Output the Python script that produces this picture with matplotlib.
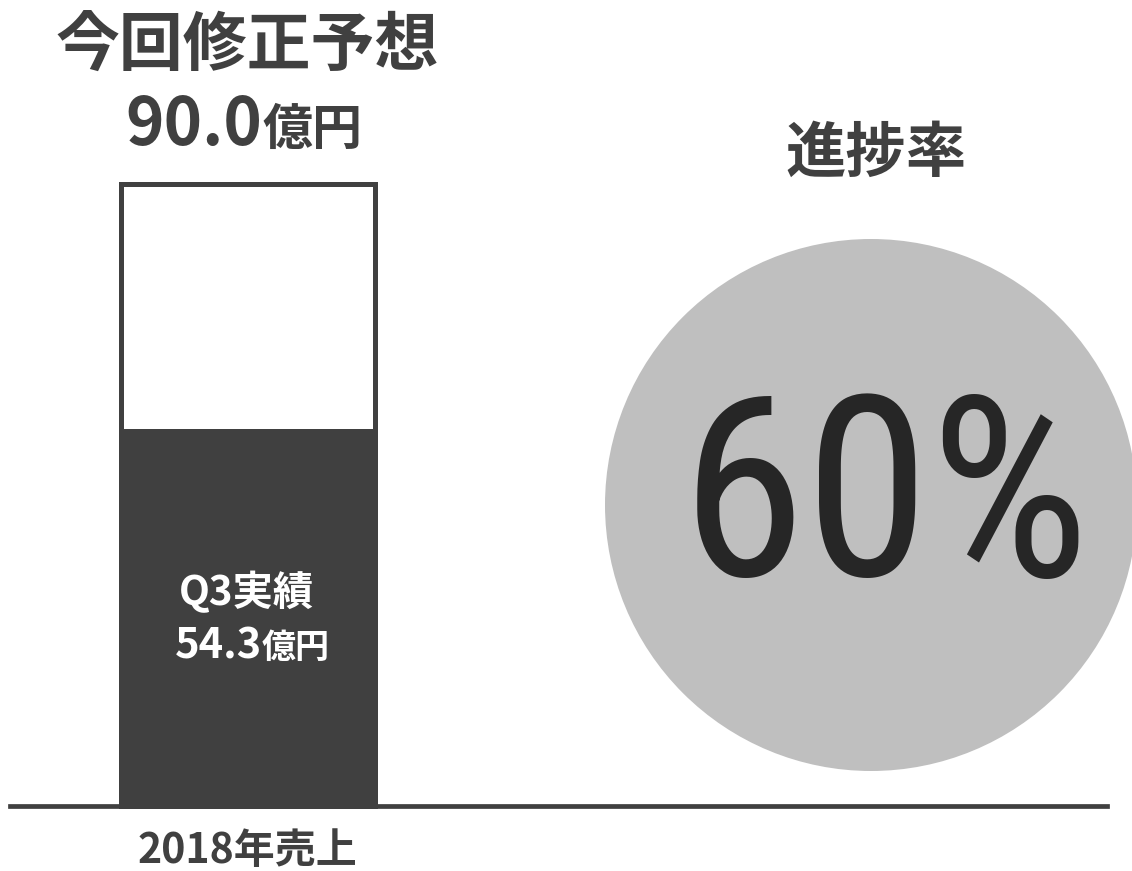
import matplotlib
matplotlib.use("Agg")
import matplotlib.pyplot as plt
from matplotlib.patches import Circle

plt.rcParams['font.family'] = ['Noto Sans CJK JP', 'DejaVu Sans']

# data (億円)
year_label = "2018年売上"
forecast = 90.0
q3_actual = 54.3
title = "今回修正予想"
progress_title = "進捗率"

progress = q3_actual / forecast * 100

DARK = '#404040'
GREY = '#bfbfbf'

W, H = 1132, 871
fig = plt.figure(figsize=(W / 100, H / 100), dpi=100)

# bar axes: x in pixels, y in 億円 (0 at the baseline, 90 at the bar top)
ax = fig.add_axes([0, 0, 1, 1])
px_per_unit = (806 - 184.5) / forecast
ax.set_xlim(0, W)
ax.set_ylim(-(H - 806) / px_per_unit, 806 / px_per_unit)
ax.axis('off')

bar_x = 247.5
ax.bar([bar_x], [forecast], width=254, color='white', edgecolor=DARK, linewidth=3.6, zorder=2)
ax.bar([bar_x], [q3_actual], width=254, color=DARK, edgecolor=DARK, linewidth=3.6, zorder=3)
ax.axhline(0, xmin=10 / W, xmax=1107 / W, color=DARK, linewidth=3.4, zorder=1)

# overlay in pixel coordinates for the circle and labels
ov = fig.add_axes([0, 0, 1, 1])
ov.set_xlim(0, W)
ov.set_ylim(H, 0)
ov.axis('off')
ov.patch.set_alpha(0)

ov.add_patch(Circle((871, 505), 266, color=GREY, lw=0))
ov.text(886, 506, f"{progress:.0f}%", ha='center', va='center', fontsize=182,
        color='#262626', family=['Roboto Condensed', 'DejaVu Sans'])

ov.text(247, 46, title, ha='center', va='center', fontsize=46, fontweight='bold', color=DARK)
ov.text(262, 145, f"{forecast:.1f}", ha='right', va='baseline', fontsize=47, fontweight='bold', color=DARK)
ov.text(262, 145, "億円", ha='left', va='baseline', fontsize=36, fontweight='bold', color=DARK)

ov.text(876, 154, progress_title, ha='center', va='center', fontsize=43.5, fontweight='bold', color=DARK)

ov.text(246, 593, "Q3実績", ha='center', va='center', fontsize=29, fontweight='bold', color='white')
ov.text(262, 658, f"{q3_actual:.1f}", ha='right', va='baseline', fontsize=30, fontweight='bold', color='white')
ov.text(262, 658, "億円", ha='left', va='baseline', fontsize=24.5, fontweight='bold', color='white')

ov.text(247, 851, year_label, ha='center', va='center', fontsize=29.5, fontweight='bold', color=DARK)

fig.savefig("out.png", dpi=100)
